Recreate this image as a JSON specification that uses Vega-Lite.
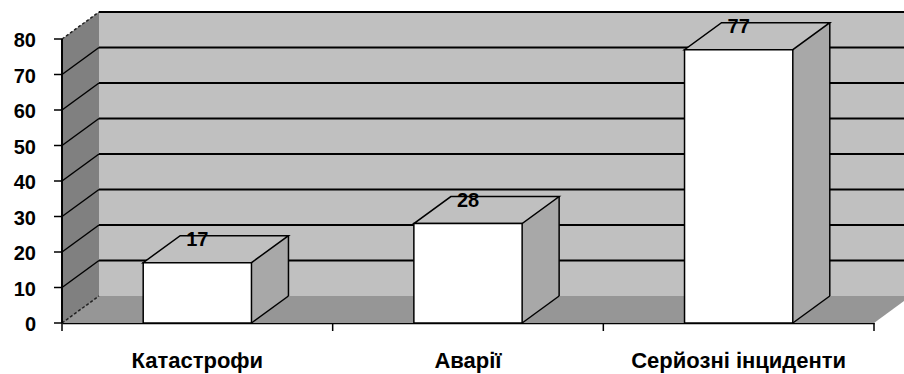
{
  "$schema": "https://vega.github.io/schema/vega-lite/v6.json",
  "width": 812,
  "height": 284,
  "autosize": "none",
  "padding": {"left": 62, "top": 39, "right": 30, "bottom": 51},
  "background": "white",
  "view": {"stroke": null},
  "config": {
    "font": "Liberation Sans",
    "axisX": {
      "domain": true,
      "domainColor": "#000",
      "domainWidth": 1.5,
      "ticks": false,
      "tickSize": 0,
      "grid": false,
      "labelAngle": 0,
      "labelFont": "Liberation Sans",
      "labelFontWeight": "bold",
      "labelFontSize": 22,
      "labelColor": "#000",
      "labelPadding": 44,
      "labelBaseline": "alphabetic",
      "labelLimit": 0,
      "labelOverlap": false,
      "zindex": 1
    }
  },
  "datasets": {
    "incidents": [
      {"category": "Катастрофи", "count": 17},
      {"category": "Аварії", "count": 28},
      {"category": "Серйозні інциденти", "count": 77}
    ],
    "levels": [
      {"level": 0}, {"level": 10}, {"level": 20}, {"level": 30}, {"level": 40},
      {"level": 50}, {"level": 60}, {"level": 70}, {"level": 80}
    ],
    "frame": [{"part": "plot"}]
  },
  "layer": [
    {
      "data": {"name": "frame"},
      "layer": [
        {
          "mark": {"type": "rect", "fill": "#c0c0c0", "xOffset": 37, "x2Offset": 37, "yOffset": -27, "y2Offset": -27},
          "encoding": {
            "x": {"value": 0},
            "x2": {"value": "width"},
            "y": {"datum": 80, "type": "quantitative", "axis": null},
            "y2": {"datum": 0}
          }
        },
        {
          "mark": {"type": "rect", "fill": "#969696", "y2Offset": -27},
          "encoding": {
            "x": {"value": 0},
            "x2": {"value": "width"},
            "y": {"datum": 0, "type": "quantitative", "axis": null},
            "y2": {"datum": 0}
          }
        },
        {
          "mark": {"type": "point", "shape": "M-1,0 L0,0 L37,-27 L-1,-27 Z", "size": 4, "filled": true, "fill": "#969696", "strokeWidth": 0, "opacity": 1},
          "encoding": {
            "x": {"value": "width"},
            "y": {"datum": 0, "type": "quantitative", "axis": null}
          }
        },
        {
          "mark": {"type": "rect", "fill": "#808080", "x2Offset": 37, "y2Offset": -27},
          "encoding": {
            "x": {"value": 0},
            "x2": {"value": 0},
            "y": {"datum": 80, "type": "quantitative", "axis": null},
            "y2": {"datum": 0}
          }
        },
        {
          "mark": {"type": "point", "shape": "M0,1 L0,0 L37,-27 L37,1 Z", "size": 4, "filled": true, "fill": "#808080", "strokeWidth": 0, "opacity": 1},
          "encoding": {
            "x": {"value": 0},
            "y": {"datum": 80, "type": "quantitative", "axis": null}
          }
        },
        {
          "mark": {"type": "point", "shape": "M0,0 L0,-28 L37,-28 L37,-27 Z", "size": 4, "filled": true, "fill": "#808080", "strokeWidth": 0, "opacity": 1},
          "encoding": {
            "x": {"value": 0},
            "y": {"datum": 0, "type": "quantitative", "axis": null}
          }
        },
        {
          "mark": {"type": "rule", "stroke": "#000", "strokeWidth": 1.5, "y2Offset": 8},
          "encoding": {
            "x": {"value": "width"},
            "y": {"datum": 0, "type": "quantitative", "axis": null},
            "y2": {"datum": 0}
          }
        }
      ]
    },
    {
      "data": {"name": "levels"},
      "layer": [
        {
          "transform": [{"filter": "datum.level > 0"}],
          "mark": {"type": "rule", "stroke": "#000", "strokeWidth": 2, "xOffset": 37, "x2Offset": 37, "yOffset": -27},
          "encoding": {
            "x": {"value": 0},
            "x2": {"value": "width"},
            "y": {"field": "level", "type": "quantitative", "axis": null}
          }
        },
        {
          "transform": [{"filter": "datum.level > 0 && datum.level < 80"}],
          "mark": {"type": "rule", "stroke": "#000", "strokeWidth": 1.5, "x2Offset": 37, "y2Offset": -27},
          "encoding": {
            "x": {"value": 0},
            "x2": {"value": 0},
            "y": {"field": "level", "type": "quantitative", "axis": null},
            "y2": {"field": "level"}
          }
        },
        {
          "transform": [{"filter": "datum.level == 0 || datum.level == 80"}],
          "mark": {"type": "rule", "stroke": "#222", "strokeWidth": 1.5, "strokeDash": [3, 2], "x2Offset": 37, "y2Offset": -27},
          "encoding": {
            "x": {"value": 0},
            "x2": {"value": 0},
            "y": {"field": "level", "type": "quantitative", "axis": null},
            "y2": {"field": "level"}
          }
        },
        {
          "mark": {"type": "rule", "stroke": "#000", "strokeWidth": 1.5, "xOffset": -8},
          "encoding": {
            "x": {"value": 0},
            "x2": {"value": 0},
            "y": {"field": "level", "type": "quantitative", "axis": null}
          }
        },
        {
          "mark": {"type": "text", "align": "right", "baseline": "middle", "dx": -26, "dy": 2, "font": "Liberation Sans", "fontWeight": "bold", "fontSize": 20, "color": "#000"},
          "encoding": {
            "x": {"value": 0},
            "y": {"field": "level", "type": "quantitative", "axis": null},
            "text": {"field": "level", "type": "quantitative"}
          }
        }
      ]
    },
    {
      "data": {"name": "incidents"},
      "encoding": {
        "x": {
          "field": "category",
          "type": "nominal",
          "sort": null,
          "title": null,
          "scale": {"domain": ["Катастрофи", "Аварії", "Серйозні інциденти"], "paddingInner": 0, "paddingOuter": 0}
        }
      },
      "layer": [
        {
          "mark": {"type": "bar", "width": 37, "xOffset": 72.63, "fill": "#a8a8a8", "y2Offset": -27},
          "encoding": {
            "y": {
              "field": "count",
              "type": "quantitative",
              "scale": {"domain": [0, 80], "nice": false, "zero": true},
              "axis": null
            },
            "y2": {"datum": 0}
          }
        },
        {
          "mark": {"type": "point", "shape": "M54.13,1 L54.13,0 L91.13,-27 L91.13,1 Z", "size": 4, "filled": true, "fill": "#a8a8a8", "strokeWidth": 0, "opacity": 1},
          "encoding": {
            "y": {"field": "count", "type": "quantitative", "axis": null}
          }
        },
        {
          "mark": {"type": "point", "shape": "M54.13,-28 L54.13,0 L91.13,-27 L91.13,-28 Z", "size": 4, "filled": true, "fill": "#a8a8a8", "strokeWidth": 0, "opacity": 1},
          "encoding": {
            "y": {"datum": 0, "type": "quantitative", "axis": null}
          }
        },
        {
          "mark": {"type": "point", "shape": "M-54.13,0 L54.13,0 L91.13,-27 L-17.13,-27 Z", "size": 4, "filled": true, "fill": "#c0c0c0", "stroke": "#000", "strokeWidth": 1.5, "opacity": 1},
          "encoding": {
            "y": {"field": "count", "type": "quantitative", "axis": null}
          }
        },
        {
          "mark": {"type": "rule", "stroke": "#000", "strokeWidth": 1.5, "xOffset": 91.13, "yOffset": -27, "y2Offset": -27},
          "encoding": {
            "y": {"field": "count", "type": "quantitative", "axis": null},
            "y2": {"datum": 0}
          }
        },
        {
          "mark": {"type": "point", "shape": "M54.13,0 L91.13,-27", "size": 4, "filled": false, "stroke": "#000", "strokeWidth": 1.5, "opacity": 1},
          "encoding": {
            "y": {"datum": 0, "type": "quantitative", "axis": null}
          }
        },
        {
          "mark": {"type": "bar", "width": {"band": 0.4}, "fill": "#ffffff", "stroke": "#000", "strokeWidth": 1.5},
          "encoding": {
            "y": {"field": "count", "type": "quantitative", "axis": null},
            "y2": {"datum": 0}
          }
        },
        {
          "mark": {"type": "text", "dy": -17, "baseline": "alphabetic", "align": "center", "font": "Liberation Sans", "fontWeight": "bold", "fontSize": 20, "color": "#000"},
          "encoding": {
            "y": {"field": "count", "type": "quantitative", "axis": null},
            "text": {"field": "count", "type": "quantitative"}
          }
        },
        {
          "mark": {"type": "rule", "stroke": "#000", "strokeWidth": 1.5, "y2Offset": 8},
          "encoding": {
            "x": {"field": "category", "type": "nominal", "sort": null, "title": null, "bandPosition": 0},
            "y": {"datum": 0, "type": "quantitative", "axis": null},
            "y2": {"datum": 0}
          }
        },
        {
          "mark": {"type": "rule", "stroke": "#000", "strokeWidth": 1.5},
          "encoding": {
            "x": {"value": 0},
            "y": {"datum": 0, "type": "quantitative", "axis": null},
            "y2": {"datum": 80}
          }
        }
      ]
    }
  ]
}
